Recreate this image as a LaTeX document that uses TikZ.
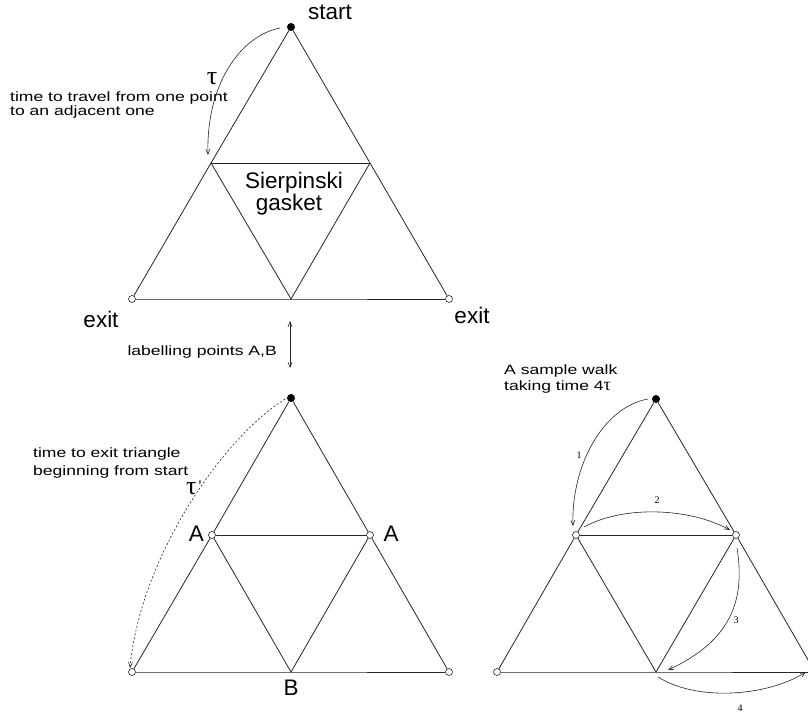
\documentclass[tikz,border=0pt]{standalone}
\usepackage{fontspec}
\setmainfont{Liberation Sans}
\newfontfamily\numfont{Liberation Serif}
\newfontfamily\widefont[FakeStretch=1.3]{Liberation Sans}
\usetikzlibrary{arrows.meta,calc}
\begin{document}
\begin{tikzpicture}[x=1pt,y=-1pt,
  edge/.style={draw=black!85,line width=0.8pt},
  opennode/.style={circle,draw=black!85,fill=white,line width=0.6pt,inner sep=0pt,minimum size=7pt},
  startnode/.style={circle,fill=black,inner sep=0pt,minimum size=8pt},
  walkarc/.style={draw=black!85,line width=0.6pt,-{Straight Barb[length=5pt,width=4pt]}},
  bigtext/.style={font=\fontsize{22.5}{24}\selectfont,inner sep=0pt,anchor=base},
  smalltext/.style={font=\widefont\fontsize{13.5}{15}\selectfont,inner sep=0pt,anchor=base west},
  numtext/.style={font=\numfont\fontsize{10}{11}\selectfont,inner sep=0pt},
  tautext/.style={font=\numfont\fontsize{26}{26}\selectfont,inner sep=0pt}
]
\clip (0,0) rectangle (808,714);
\fill[white] (0,0) rectangle (808,714);

% ---------- top triangle ----------
\node[startnode] (ta) at (291,27) {};
\node[opennode] (tl) at (132,299) {};
\node[opennode] (tr) at (449,299) {};
\coordinate (tml) at (211,163);
\coordinate (tmr) at (370,163);
\coordinate (tmb) at (291,299);
\draw[edge] (ta) -- (tml) -- (tl);
\draw[edge] (ta) -- (tmr) -- (tr);
\draw[edge] (tl) -- (tmb) -- (tr);
\draw[edge] (tml) -- (tmr);
\draw[edge] (tml) -- (tmb) -- (tmr);

\node[bigtext] (tstart) at (330,20) {start};
\node[bigtext] (texitl) at (101,327) {exit};
\node[bigtext] (texitr) at (472,323) {exit};
\node[bigtext] (tsier) at (294,189) {Sierpinski};
\node[bigtext] (tgask) at (289,211) {gasket};
\node[tautext] (ttau) at (212,79) {τ};
\node[smalltext] (ttravel1) at (10,102) {time to travel from one point};
\node[smalltext] (ttravel2) at (10,116) {to an adjacent one};
\draw[walkarc] ($(ta)+(-11,1)$) .. controls +(-40,8) and +(-2,-70) .. ($(tml)+(-3,-8)$);

% ---------- labelling arrow ----------
\coordinate (lbtop) at (290,321);
\coordinate (lbbot) at (290,368);
\draw[walkarc,{Straight Barb[length=5pt,width=4pt]}-{Straight Barb[length=5pt,width=4pt]}] (lbtop) -- (lbbot);
\node[smalltext,anchor=base east] (tlab) at (277,355) {labelling points A,B};

% ---------- bottom-left triangle ----------
\node[startnode] (ba) at (291,398) {};
\node[opennode] (bl) at (132,672) {};
\node[opennode] (br) at (449,672) {};
\node[opennode] (bA1) at (212,535) {};
\node[opennode] (bA2) at (370,535) {};
\coordinate (bB) at (291,672);
\draw[edge] (ba) -- (bA1) -- (bl);
\draw[edge] (ba) -- (bA2) -- (br);
\draw[edge] (bl) -- (bB) -- (br);
\draw[edge] (bA1) -- (bA2);
\draw[edge] (bA1) -- (bB) -- (bA2);

\node[bigtext] (lA1) at (196.5,541) {A};
\node[bigtext] (lA2) at (391,541) {A};
\node[bigtext] (lB) at (291,695) {B};
\node[smalltext] (texit1) at (33,457) {time to exit triangle};
\node[smalltext] (texit2) at (33,475) {beginning from start};
\node[tautext,anchor=base west] (ttaup) at (186,494) {τ\hspace{2pt}\raisebox{3pt}{\fontsize{16}{16}\selectfont'}};
\draw[walkarc,dashed,dash pattern=on 2pt off 2pt] ($(ba)+(-6,1)$) .. controls +(-65,41) and +(10,-108) .. ($(bl)+(-2,-4)$);

% ---------- bottom-right triangle ----------
\node[startnode] (ra) at (656,399) {};
\node[opennode] (rl) at (497,672) {};
\node[opennode] (rr) at (815,672) {};
\node[opennode] (r1) at (576,535) {};
\node[opennode] (r2) at (736,535) {};
\coordinate (rm) at (656,672);
\draw[edge] (ra) -- (r1) -- (rl);
\draw[edge] (ra) -- (r2) -- (rr);
\draw[edge] (rl) -- (rm) -- (rr);
\draw[edge] (r1) -- (r2);
\draw[edge] (r1) -- (rm) -- (r2);

\node[smalltext] (tsample1) at (504,374.5) {A sample walk};
\node[smalltext] (tsample2) at (504,390) {taking time 4{\numfont\fontsize{18}{18}\selectfont τ}};

\draw[walkarc] ($(ra)+(-8,0)$) .. controls +(-45,8) and +(-2,-60) .. ($(r1)+(-3,-9)$);
\draw[walkarc] ($(r1)+(8,-8)$) .. controls +(40,-22) and +(-40,-22) .. ($(r2)+(-6,-5)$);
\draw[walkarc] ($(r2)+(1,13)$) .. controls +(8,50) and +(65,-30) .. ($(rm)+(12,-2)$);
\draw[walkarc] ($(rm)+(2,5)$) .. controls +(40,25) and +(-38,24) .. (806,672);

\node[numtext] (n1) at (579,455) {1};
\node[numtext] (n2) at (657,500) {2};
\node[numtext] (n3) at (736,620) {3};
\node[numtext] (n4) at (740,708) {4};
\end{tikzpicture}
\end{document}
